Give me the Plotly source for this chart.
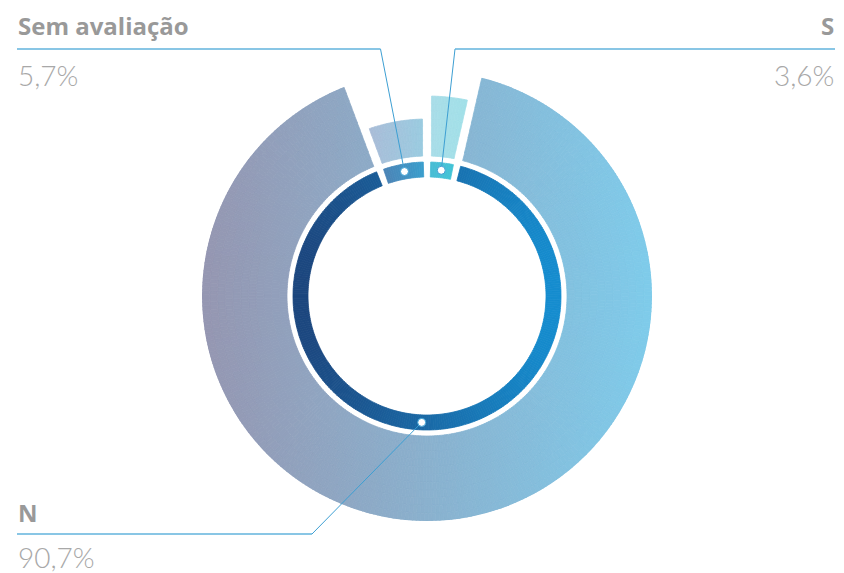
import math
import numpy as np
import plotly.graph_objects as go

# ---- data -------------------------------------------------------------
categories = ["S", "N", "Sem avaliação"]
shares = [3.6, 90.7, 5.7]            # percent, drawn clockwise from 12 o'clock
pct_labels = ["3,6%", "90,7%", "5,7%"]

# ---- geometry (radial axis units are screen pixels) --------------------
W, H = 844, 573
CX, CY = 427, 296
R_MAX = 225
OUTER_BASE = 140
OUTER_TOP = {"S": 200, "N": 225, "Sem avaliação": 177}
INNER_BASE, INNER_TOP = 119, 134
OUTER_GAP, INNER_GAP = 9, 7          # constant-width white gaps (px)
DOT_R = (INNER_BASE + INNER_TOP) / 2
N_LABEL_ANGLE = 182.4                # where the N leader meets the ring

# ---- colours (left -> right gradient stops) ----------------------------
OUTER_COLORS = {"S": ("#a9dde8", "#a2e0e8"),
                "N": ("#9597b2", "#7fcbea"),
                "Sem avaliação": ("#a9bdd8", "#9bcbe0")}
INNER_COLORS = {"S": ("#48bcd4", "#42c3d6"),
                "N": ("#1c467e", "#168dcf"),
                "Sem avaliação": ("#4b85b7", "#3a9dcc")}
LEADER = "#3d9fd3"
UNDERLINE = "#62b3dc"
LABEL_GREY = "#999999"
PCT_GREY = "#a8a8a8"


def hex_rgb(h):
    h = h.lstrip("#")
    return np.array([int(h[i:i + 2], 16) for i in (0, 2, 4)], float)


def mix(c0, c1, t):
    c = hex_rgb(c0) * (1 - t) + hex_rgb(c1) * t
    return "rgb(%d,%d,%d)" % tuple(np.round(c).astype(int))


def ring_piece(a0, a1, r0, r1, gap, colors, step=1.0, band=8.0):
    """Split an annular sector into small cells so that a horizontal
    colour gradient can be painted across it."""
    n_r = max(1, int(round((r1 - r0) / band)))
    edges = np.linspace(r0, r1, n_r + 1)
    cells = []
    for rb0, rb1 in zip(edges[:-1], edges[1:]):
        rm = (rb0 + rb1) / 2
        half = math.degrees((gap / 2) / rm)
        s, e = a0 + half, a1 - half
        n_a = max(1, int(math.ceil((e - s) / step)))
        w = (e - s) / n_a
        for k in range(n_a):
            th = s + (k + 0.5) * w
            cells.append((th, w, rb0, rb1 - rb0, CX + rm * math.sin(math.radians(th))))
    xs = np.array([c[4] for c in cells])
    lo, hi = xs.min(), xs.max()
    span = hi - lo if hi > lo else 1.0
    theta = [c[0] for c in cells]
    width = [c[1] for c in cells]
    base = [c[2] for c in cells]
    r = [c[3] for c in cells]
    col = [mix(colors[0], colors[1], (c[4] - lo) / span) for c in cells]
    return go.Barpolar(theta=theta, width=width, base=base, r=r,
                       marker=dict(color=col, line=dict(color=col, width=0.8)),
                       hoverinfo="skip", showlegend=False)


fig = go.Figure()

# slice boundaries in degrees
bounds = np.concatenate([[0], np.cumsum(shares)]) * 3.6
mid_angle = {}
for name, a0, a1 in zip(categories, bounds[:-1], bounds[1:]):
    mid_angle[name] = (a0 + a1) / 2
    fig.add_trace(ring_piece(a0, a1, OUTER_BASE, OUTER_TOP[name], OUTER_GAP, OUTER_COLORS[name]))
    fig.add_trace(ring_piece(a0, a1, INNER_BASE, INNER_TOP, INNER_GAP, INNER_COLORS[name], band=16))

# invisible trace so the pixel-space overlay axes exist
fig.add_trace(go.Scatter(x=[0, W], y=[0, H], mode="markers", marker=dict(opacity=0),
                         hoverinfo="skip", showlegend=False))

mid_angle["N"] = N_LABEL_ANGLE


def ring_xy(angle):
    a = math.radians(angle)
    return CX + DOT_R * math.sin(a), CY - DOT_R * math.cos(a)


# label layout: (corner of leader, underline end, text x, anchor, label y, pct y)
label_layout = {
    "Sem avaliação": ((380.5, 49), 17, 16, "left", 25, 75),
    "S": ((455, 49), 835, 836, "right", 25, 75),
    "N": ((312, 534), 17, 16, "left", 512, 557),
}

shapes, annotations = [], []
for name, pct in zip(categories, pct_labels):
    (kx, ky), ux, tx, anchor, ly, py = label_layout[name]
    dx, dy = ring_xy(mid_angle[name])
    shapes.append(dict(type="path", xref="x", yref="y", layer="above",
                       path=f"M{dx},{dy} L{kx},{ky}",
                       line=dict(color=LEADER, width=1)))
    shapes.append(dict(type="line", xref="x", yref="y", layer="above",
                       x0=kx, y0=ky, x1=ux, y1=ky,
                       line=dict(color=UNDERLINE, width=1.5)))
    shapes.append(dict(type="circle", xref="x", yref="y", layer="above",
                       x0=dx - 4, x1=dx + 4, y0=dy - 4, y1=dy + 4,
                       fillcolor="white", line=dict(color=LEADER, width=1)))
    annotations.append(dict(x=tx, y=ly, xref="x", yref="y", text=f"<b>{name}</b>",
                            showarrow=False, xanchor=anchor, yanchor="middle",
                            font=dict(family="Open Sans", size=24, color=LABEL_GREY,
                                      weight="bold")))
    annotations.append(dict(x=tx, y=py, xref="x", yref="y", text=pct,
                            showarrow=False, xanchor=anchor, yanchor="middle",
                            font=dict(family="Lato", size=28, color=PCT_GREY, weight=300)))

fig.update_layout(
    width=W, height=H,
    margin=dict(l=0, r=0, t=0, b=0),
    paper_bgcolor="white", plot_bgcolor="rgba(0,0,0,0)",
    xaxis=dict(range=[0, W], visible=False, domain=[0, 1], fixedrange=True),
    yaxis=dict(range=[H, 0], visible=False, domain=[0, 1], fixedrange=True),
    polar=dict(
        domain=dict(x=[(CX - R_MAX) / W, (CX + R_MAX) / W],
                    y=[(H - CY - R_MAX) / H, (H - CY + R_MAX) / H]),
        bgcolor="rgba(0,0,0,0)",
        bargap=0,
        radialaxis=dict(range=[0, R_MAX], visible=False, showgrid=False),
        angularaxis=dict(rotation=90, direction="clockwise", visible=False,
                         showgrid=False, thetaunit="degrees"),
    ),
    shapes=shapes,
    annotations=annotations,
    showlegend=False,
)

fig.write_html("out.html")
